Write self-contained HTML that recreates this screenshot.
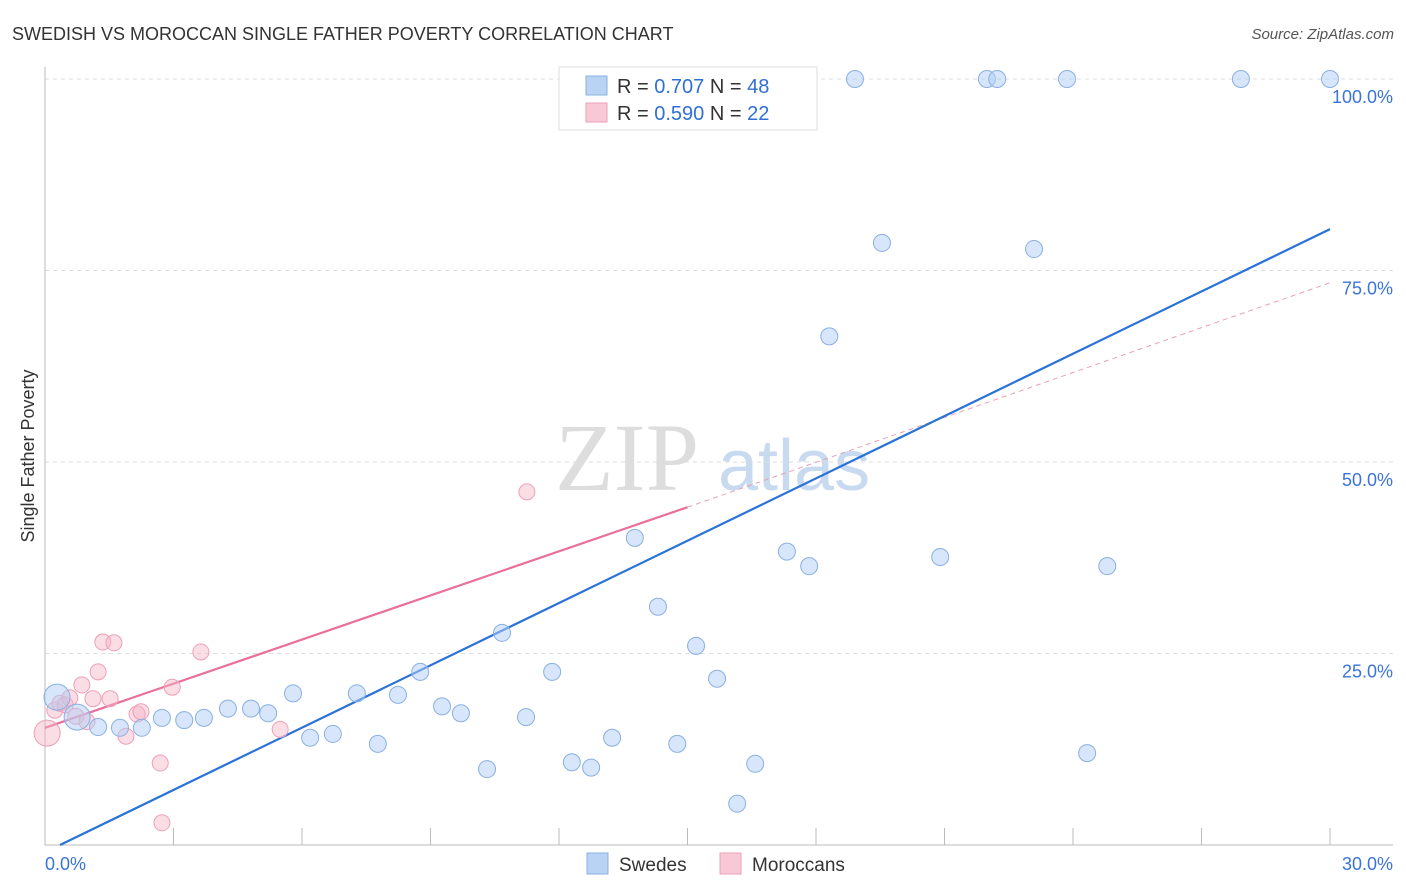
<!DOCTYPE html>
<html><head><meta charset="utf-8"><style>
body{margin:0;background:#fff;font-family:"Liberation Sans",sans-serif;}
svg{display:block}
</style></head><body>
<svg id="chart" width="1406" height="892">
<text x="12" y="40" font-size="18" fill="#333">SWEDISH VS MOROCCAN SINGLE FATHER POVERTY CORRELATION CHART</text>
<text x="1394" y="39" font-size="15" fill="#555" font-style="italic" text-anchor="end">Source: ZipAtlas.com</text>
<text x="34" y="456" font-size="18" fill="#333" transform="rotate(-90 34 456)" text-anchor="middle">Single Father Poverty</text>
<g>
<text x="555" y="490" font-size="96" font-family="Liberation Serif,serif" fill="#ddd">ZIP</text>
<text x="718" y="490" font-size="72" fill="#c8daf0">atlas</text>
</g>
<g id="grid"></g><g id="axes"></g><g id="lines"></g><g id="pts"></g>
<g>
<rect x="559" y="67" width="258" height="63" fill="#fff" stroke="#ddd"/>
<rect x="586" y="76" width="21" height="19" fill="#b9d3f5" stroke="#8ab0e0"/>
<rect x="586" y="103" width="21" height="19" fill="#f9c8d6" stroke="#eba0b8"/>
<text x="617" y="93" font-size="20" fill="#333">R = <tspan fill="#2f6fd6">0.707</tspan>   N = <tspan fill="#2f6fd6">48</tspan></text>
<text x="617" y="120" font-size="20" fill="#333">R = <tspan fill="#2f6fd6">0.590</tspan>   N = <tspan fill="#2f6fd6">22</tspan></text>
</g>
<g>
<rect x="587" y="853" width="21" height="21" fill="#b9d3f5" stroke="#8ab0e0"/>
<text x="619" y="871" font-size="19" fill="#333">Swedes</text>
<rect x="720" y="853" width="21" height="21" fill="#f9c8d6" stroke="#eba0b8"/>
<text x="752" y="871" font-size="19" fill="#333">Moroccans</text>
</g>
</svg>
<script>
const xTicks=[0,3,6,9,12,15,18,21,24,27,30];
const yTicks=[25,50,75,100];
const yTickLabels=["25.0%","50.0%","75.0%","100.0%"];
const xEndLabels=["0.0%","30.0%"];
const swedesX=[0.28,0.75,1.24,1.75,2.26,2.73,3.25,3.71,4.27,4.81,5.21,5.79,6.19,6.72,7.28,7.77,8.24,8.76,9.27,9.71,10.32,10.67,11.23,11.84,12.30,12.75,13.24,13.77,14.31,14.76,15.20,15.69,16.16,16.58,17.32,17.84,18.31,18.91,19.54,20.90,21.99,22.23,23.09,23.86,24.33,24.80,27.92,30.0];
const swedesY=[19.3,16.7,15.4,15.3,15.3,16.6,16.3,16.6,17.8,17.8,17.2,19.8,14.0,14.5,19.8,13.2,19.6,22.6,18.1,17.2,9.9,27.7,16.7,22.6,10.8,10.1,14.0,40.1,31.1,13.2,26.0,21.7,5.4,10.6,38.3,36.4,66.4,100,78.6,37.6,100,100,77.8,100,12.0,36.4,100,100];
const morX=[0.05,0.23,0.35,0.47,0.58,0.72,0.86,0.98,1.12,1.24,1.35,1.52,1.61,1.89,2.15,2.24,2.69,2.73,2.97,3.64,5.49,11.25];
const morY=[14.6,17.6,18.5,18.3,19.2,16.8,20.9,16.1,19.1,22.6,26.5,19.1,26.4,14.2,17.1,17.4,10.7,2.9,20.6,25.2,15.1,46.1];
const blueLine=[[0.35,0],[30,80.4]];
const pinkLine=[[0,15.3],[15,44.1]];
const pinkDash=[[15,44.1],[30,73.4]];
const NS="http://www.w3.org/2000/svg";
const X=v=>45+v*(1330-45)/30;
const Y=v=>845-v*(845-79)/100;
function mk(p,t,a){const e=document.createElementNS(NS,t);for(const k in a)e.setAttribute(k,a[k]);document.getElementById(p).appendChild(e);return e;}
yTicks.forEach((t,i)=>{
 const g=mk('grid','line',{x1:45,x2:1393,y1:Y(t),y2:Y(t),stroke:'#ddd','stroke-dasharray':'4,4'});
 
 
 const l=mk('grid','text',{x:1393,y:Y(t)+24,'font-size':18,fill:'#3a74d8','text-anchor':'end'});
 l.textContent=yTickLabels[i];
 
 
});
const ax=mk('axes','line',{x1:45,x2:1393,y1:845,y2:845,stroke:'#bbb'});


const ay=mk('axes','line',{x1:45,x2:45,y1:67,y2:845,stroke:'#bbb'});


xTicks.forEach(t=>{
 const e=mk('axes','line',{x1:X(t),x2:X(t),y1:828,y2:845,stroke:'#bbb'});
 
 
});
[[0,'start'],[30,'end']].forEach(([v,a],i)=>{
 const l=mk('axes','text',{x:i?1393:45,y:870,'font-size':18,fill:'#3a74d8','text-anchor':a});
 l.textContent=xEndLabels[i];
 
 
});
function ln(d,st,w,dash,name){const e=mk('lines','line',{x1:X(d[0][0]),y1:Y(d[0][1]),x2:X(d[1][0]),y2:Y(d[1][1]),stroke:st,'stroke-width':w});if(dash)e.setAttribute('stroke-dasharray',dash);
 
 }
ln(pinkDash,'#e8a0b8',1,'5,4','moroccans-trend-extension');
ln(blueLine,'#2a72d8',2.2,null,'swedes-trend-line');
ln(pinkLine,'#e8709a',2.2,null,'moroccans-trend-line');
morX.forEach((x,i)=>{
 const r=i===0?13:8;
 const c=mk('pts','circle',{cx:X(x),cy:Y(morY[i]),r:r,fill:'rgba(246,180,200,0.45)',stroke:'#eda0b8','stroke-width':1});
 
 
});
swedesX.forEach((x,i)=>{
 const r=i<2?13:8.5;
 const c=mk('pts','circle',{cx:X(x),cy:Y(swedesY[i]),r:r,fill:'rgba(175,205,245,0.5)',stroke:'#8ab0e2','stroke-width':1});
 
 
});
</script>
</body></html>
